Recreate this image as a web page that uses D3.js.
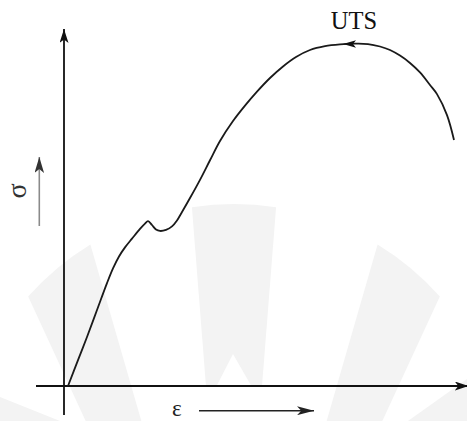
<!DOCTYPE html>
<html><head><meta charset="utf-8">
<script src="https://cdn.jsdelivr.net/npm/d3@7"></script>
<style>html,body{margin:0;padding:0;background:#fff;overflow:hidden}</style>
</head><body>
<svg id="chart" width="467" height="421"></svg>
<script>
// ---- data (strain ε, stress σ in arbitrary units) ----
const strain = [1, 3.5, 5.75, 8.25, 10.75, 12.25, 13.75, 15.25, 17, 19, 20.25, 21, 22, 23, 24, 25.5, 27, 28.25, 29.5, 31.5, 34, 36.5, 39, 42.25, 45.25, 48.25, 51.5, 54.75, 58, 61.5, 65.25, 69, 72.75, 76, 79, 81.5, 84, 86.5, 89, 91.5, 93.25, 95.75, 97.5];
const stress = [0, 7.4, 14, 21.7, 29.4, 33.6, 37, 39.6, 42.1, 44.9, 46.4, 47.1, 46, 44.7, 44.3, 44.6, 45.6, 47.3, 49.7, 53.7, 58.9, 64.5, 70, 75.7, 80.1, 84.1, 88, 91.3, 94, 96, 97.1, 97.6, 97.8, 97.7, 97, 96, 94.4, 92.3, 89.6, 86, 83.4, 77.4, 70.3];
const utsLabel = ["UTS"];
const utsPoint = [71.25, 97.7];      // where the arrow on the curve sits
const xAxisLabel = ["ε"];
const yAxisLabel = ["σ"];

const W = 467, H = 421;
const svg = d3.select("#chart");
const x = d3.scaleLinear().domain([0, 100]).range([64, 464]);
const y = d3.scaleLinear().domain([0, 100]).range([386, 36]);

// ---- faint watermark (decoration) ----
const wm = svg.append("g").attr("fill", "#f3f3f3");
const apex = [234, 742], oc = [234, 479], R = 275;
function hitCircle(angDeg) {
  const a = angDeg * Math.PI / 180, dx = Math.sin(a), dy = -Math.cos(a);
  const px = apex[0] - oc[0], py = apex[1] - oc[1];
  const b = px * dx + py * dy, c = px * px + py * py - R * R;
  const t = -b + Math.sqrt(b * b - c);
  return [apex[0] + dx * t, apex[1] + dy * t];
}
function atY(angDeg, yy) {
  const a = angDeg * Math.PI / 180, dx = Math.sin(a), dy = -Math.cos(a);
  const t = (yy - apex[1]) / dy;
  return [apex[0] + dx * t, yy];
}
function blade(a1, a2, yBottom) {
  const p1 = hitCircle(a1), p2 = hitCircle(a2);
  const p = d3.path();
  p.moveTo(...p1);
  const s1 = Math.atan2(p1[1] - oc[1], p1[0] - oc[0]);
  const s2 = Math.atan2(p2[1] - oc[1], p2[0] - oc[0]);
  p.arc(oc[0], oc[1], R, s1, s2, false);
  const b2 = atY(a2, yBottom), b1 = atY(a1, yBottom);
  p.lineTo(...b2); p.lineTo(...b1); p.closePath();
  return p.toString();
}
[[-24.8, -16.1], [16.1, 24.8]].forEach(([a1, a2]) => wm.append("path").attr("d", blade(a1, a2, 430)));
// centre blade with notch
(function () {
  const p1 = hitCircle(-4.5), p2 = hitCircle(4.5);
  const s1 = Math.atan2(p1[1] - oc[1], p1[0] - oc[0]);
  const s2 = Math.atan2(p2[1] - oc[1], p2[0] - oc[0]);
  const p = d3.path();
  p.moveTo(...p1); p.arc(oc[0], oc[1], R, s1, s2, false);
  const b2 = atY(4.5, 387), b1 = atY(-4.5, 387);
  p.lineTo(...b2); p.lineTo(b2[0] - 10, 387); p.lineTo(233, 354); p.lineTo(b1[0] + 10, 387); p.lineTo(...b1); p.closePath();
  wm.append("path").attr("d", p.toString());
})();
// corner pieces
wm.append("path").attr("d", "M0,397L60,421L0,421Z");
wm.append("path").attr("d", "M467,379L467,421L408,421Z");

// ---- markers ----
const defs = svg.append("defs");
function marker(id, len, half, color) {
  defs.append("marker").attr("id", id).attr("viewBox", `0 ${-half} ${len} ${2 * half}`)
    .attr("refX", len).attr("refY", 0).attr("markerWidth", len).attr("markerHeight", 2 * half)
    .attr("markerUnits", "userSpaceOnUse").attr("orient", "auto")
    .append("path").attr("d", `M0,${-half}L${len},0L0,${half}L${len * 0.25},0Z`).attr("fill", color);
}
marker("axArrow", 14, 4.5, "#111");
marker("epsArrow", 17, 4.5, "#222");
marker("sigArrow", 16, 4.8, "#333");

// ---- axes ----
svg.append("line").attr("x1", x(-7)).attr("x2", x(101.2)).attr("y1", y(0)).attr("y2", y(0))
  .attr("stroke", "#111").attr("stroke-width", 1.8).attr("marker-end", "url(#axArrow)");
svg.append("line").attr("x1", x(0)).attr("x2", x(0)).attr("y1", y(-8.3)).attr("y2", y(102))
  .attr("stroke", "#111").attr("stroke-width", 1.8).attr("marker-end", "url(#axArrow)");

// ---- curve ----
const pts = strain.map((s, i) => [s, stress[i]]);
svg.append("path").datum(pts)
  .attr("d", d3.line().x(d => x(d[0])).y(d => y(d[1])).curve(d3.curveCatmullRom.alpha(0.5)))
  .attr("fill", "none").attr("stroke", "#1a1a1a").attr("stroke-width", 1.8);

// UTS arrow on the curve (pointing left)
const ux = x(utsPoint[0]), uy = y(utsPoint[1]);
svg.append("path").attr("d", `M${ux - 6},${uy}L${ux + 7},${uy - 3.8}L${ux + 4},${uy}L${ux + 7},${uy + 3.8}Z`).attr("fill", "#111");

svg.append("text").attr("x", x(66.7)).attr("y", 29).text(utsLabel[0])
  .attr("font-family", "'Liberation Serif','Times New Roman',serif").attr("font-size", 24.5).attr("fill", "#111");

// ---- axis labels with arrows ----
svg.append("text").attr("x", 172).attr("y", 415.5).text(xAxisLabel[0])
  .attr("font-family", "'Liberation Serif','Times New Roman',serif").attr("font-size", 23).attr("fill", "#222");
svg.append("line").attr("x1", 199).attr("x2", 314).attr("y1", 410.7).attr("y2", 410.7)
  .attr("stroke", "#222").attr("stroke-width", 1.4).attr("marker-end", "url(#epsArrow)");

svg.append("text").attr("transform", "translate(25.5,191) rotate(-90)").attr("text-anchor", "middle")
  .text(yAxisLabel[0])
  .attr("font-family", "'Liberation Serif','Times New Roman',serif").attr("font-size", 28).attr("fill", "#333");
svg.append("line").attr("x1", 39.3).attr("x2", 39.3).attr("y1", 226).attr("y2", 157)
  .attr("stroke", "#8a8a8a").attr("stroke-width", 1.6).attr("marker-end", "url(#sigArrow)");
</script>
</body></html>
